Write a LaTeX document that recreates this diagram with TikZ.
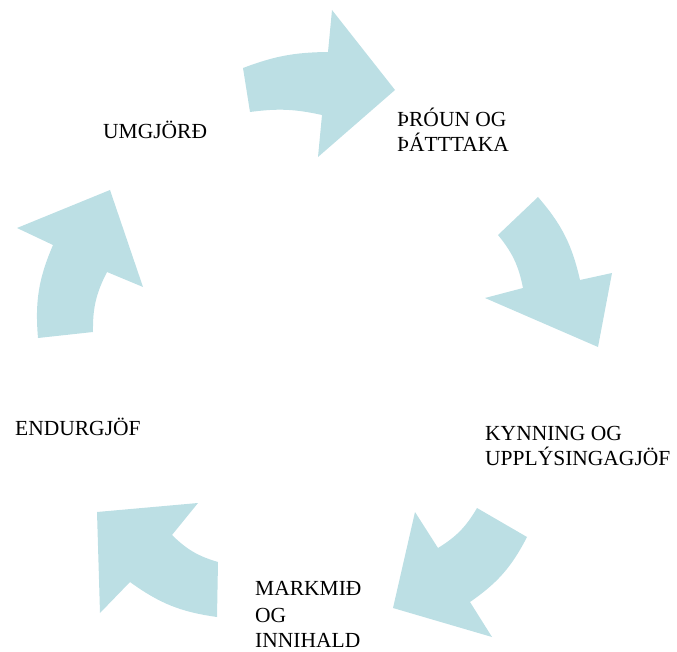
\documentclass[tikz,border=0pt]{standalone}
\usepackage{fontspec}
\setmainfont{Liberation Serif}
\definecolor{arrowfill}{HTML}{BCDFE4}
\begin{document}
\begin{tikzpicture}[x=1pt,y=-1pt,
  cyclearrow/.style={fill=arrowfill,draw=none},
  lbl/.style={anchor=base west,inner sep=0pt,font=\fontsize{21.5}{25}\selectfont,text=black}]
\useasboundingbox (0,0) rectangle (677,652);
% top arrow
\path[cyclearrow] (243,68) to[bend left=10] (328,52) -- (332,10) -- (395,90) -- (318,157) -- (322,115) to[bend right=10] (250,112) -- cycle;
% right arrow
\path[cyclearrow] (498,235) -- (538,197) to[bend left=14] (580,280) -- (612,273) -- (598,347) -- (485,298) -- (523,288) to[bend right=14] cycle;
% bottom right arrow
\path[cyclearrow] (477,508) -- (527,537) to[bend left=14] (470,602) -- (492,637) -- (393,608) -- (415,512) -- (438,548) to[bend right=14] cycle;
% bottom left arrow
\path[cyclearrow] (218,562) -- (217,617) to[bend left=14] (130,582) -- (100,613) -- (97,512) -- (198,503) -- (172,535) to[bend right=14] cycle;
% left arrow
\path[cyclearrow] (38,338) to[bend left=14] (53,245) -- (17,228) -- (110,190) -- (143,287) -- (107,272) to[bend right=14] (93,332) -- cycle;
% labels
\node[lbl] (umg) at (103,139) {UMGJÖRÐ};
\node[lbl] (thr1) at (397,127) {ÞRÓUN OG};
\node[lbl] (thr2) at (397,152) {ÞÁTTTAKA};
\node[lbl] (end) at (15,435) {ENDURGJÖF};
\node[lbl] (kyn1) at (485,440) {KYNNING OG};
\node[lbl] (kyn2) at (485,465) {UPPLÝSINGAGJÖF};
\node[lbl] (mark1) at (255,595) {MARKMIÐ};
\node[lbl] (mark2) at (255,622) {OG};
\node[lbl] (mark3) at (255,647) {INNIHALD};
\end{tikzpicture}
\end{document}
